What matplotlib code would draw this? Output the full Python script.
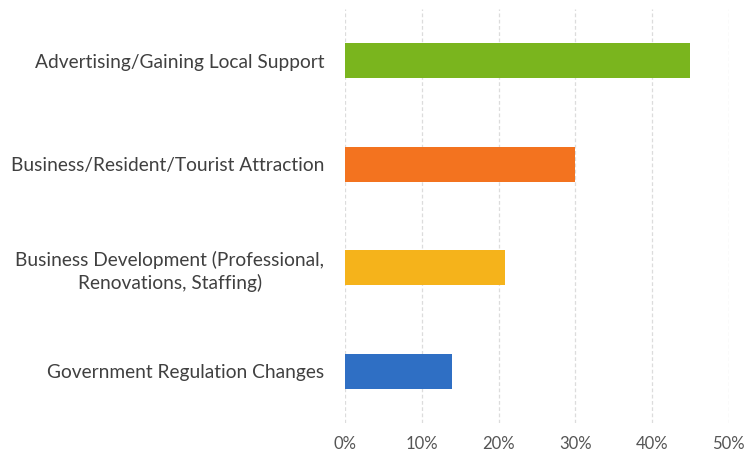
import matplotlib.pyplot as plt
import numpy as np

# categorias de baixo para cima
categorias = ["Government Regulation Changes",
              "Business Development (Professional,\nRenovations, Staffing)",
              "Business/Resident/Tourist Attraction",
              "Advertising/Gaining Local Support"]
valores = [0.139, 0.208, 0.30, 0.45]
cores = ["#2f6fc4", "#f5b31b", "#f3731f", "#7ab51e"]
ticks = [0, 0.1, 0.2, 0.3, 0.4, 0.5]
tick_labels = ["0%", "10%", "20%", "30%", "40%", "50%"]

plt.rcParams['font.family'] = ['Lato', 'DejaVu Sans']

fig = plt.figure(figsize=(7.49, 4.63), dpi=100)
ax = fig.add_axes([0.461, 0.086, 0.512, 0.895])

y = np.arange(len(categorias))
ax.barh(y, valores, height=0.34, color=cores, zorder=3)

ax.set_xlim(0, 0.5)
ax.set_ylim(-0.5, 3.5)
ax.set_xticks(ticks)
ax.set_xticklabels(tick_labels, fontsize=12, color="#555555")
ax.set_yticks(y)
ax.set_yticklabels(categorias, fontsize=13.8, color="#404040",
                   ha="right", multialignment="center", linespacing=1.3)
ax.tick_params(axis="y", length=0, pad=15)
ax.tick_params(axis="x", length=0, pad=9)

ax.grid(axis="x", color="#dcdcdc", linestyle=(0, (3, 2)), linewidth=0.9, zorder=0)
for s in ax.spines.values():
    s.set_visible(False)

plt.savefig("out.png", dpi=100)
